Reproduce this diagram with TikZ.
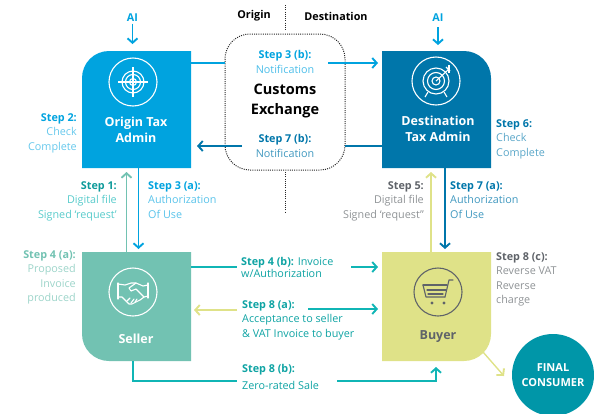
\documentclass[tikz,border=0pt]{standalone}
\usepackage{fontspec}
\setmainfont{Open Sans}
\usetikzlibrary{arrows.meta}
\definecolor{oblue}{HTML}{00A3DF}
\definecolor{dblue}{HTML}{0076AA}
\definecolor{sgreen}{HTML}{72C2B2}
\definecolor{byel}{HTML}{DFE288}
\definecolor{tealc}{HTML}{10B5B5}
\definecolor{fcons}{HTML}{0096A8}
\definecolor{greyd}{HTML}{5F6369}
\definecolor{greyl}{HTML}{8F9396}
\tikzset{
  x=1pt,y=-1pt,
  boxn/.style={minimum width=109pt,minimum height=#1,inner sep=0pt,outer sep=0pt},
  boxlabel/.style={font=\fontsize{12.5}{15.5}\selectfont\bfseries,align=center,inner sep=0pt},
  lab/.style={font=\fontsize{10.8}{14.6}\selectfont,inner sep=0pt},
  labr/.style={lab,align=right,anchor=north east},
  labl/.style={lab,align=left,anchor=north west},
  conn/.style={line width=1.4pt},
  tip/.style={conn,-{Straight Barb[length=4.5pt,width=10pt,line width=1.9pt]}},
  icon/.style={line width=1.1pt},
  dots/.style={line width=1pt,dash pattern=on 1pt off 1.2pt,black!85},
}
\begin{document}
\begin{tikzpicture}
\useasboundingbox (0,0) rectangle (594,413);
% anchor nodes
\node[boxn=117pt] (origin) at (136.5,109.5) {};
\node[boxn=117pt] (dest) at (436.5,109.5) {};
\node[boxn=109pt] (seller) at (136.5,306.5) {};
\node[boxn=109pt] (buyer) at (436.5,306.5) {};
\fill[oblue] (origin.south west) [rounded corners=27pt] -- (origin.north west) [sharp corners] -- (origin.north east) -- (origin.south east) -- cycle;
\fill[dblue] (dest.north west) [rounded corners=27pt] -- (dest.north east) [sharp corners] -- (dest.south east) -- (dest.south west) -- cycle;
\fill[sgreen] (seller.north west) [rounded corners=27pt] -- (seller.south west) [sharp corners] -- (seller.south east) -- (seller.north east) -- cycle;
\fill[byel] (buyer.north west) -- (buyer.north east) [rounded corners=27pt] -- (buyer.south east) [sharp corners] -- (buyer.south west) -- cycle;
% customs box
\node[draw=none,minimum width=120pt,minimum height=136pt,inner sep=0pt,outer sep=0pt,rounded corners=25pt] (customs) at (285,102) {};
\draw[dots,rounded corners=25pt] (customs.north west) rectangle (customs.south east);
\node[font=\fontsize{14.5}{20.5}\selectfont\bfseries,align=center,inner sep=0pt] (cx) at (285,101) {Customs\\Exchange};
% headings
\node[font=\fontsize{10.8}{13}\selectfont\bfseries,inner sep=0pt] (horig) at (254,16) {Origin};
\node[font=\fontsize{10.8}{13}\selectfont\bfseries,inner sep=0pt] (hdest) at (336,16) {Destination};
\coordinate (d1) at (285,5); \coordinate (d2) at (285,31);
\coordinate (d3) at (285,172); \coordinate (d4) at (285,212);
\draw[dots] (d1)--(d2); \draw[dots] (d3)--(d4);
% box labels
\node[boxlabel,text=white] at (136,130) {Origin Tax\\Admin};
\node[boxlabel,text=white] at (438,129) {Destination\\Tax Admin};
\node[boxlabel,text=white] at (136,339) {Seller};
\node[boxlabel,text=greyd] at (438,337) {Buyer};
% AI
\node[font=\fontsize{10.8}{13}\selectfont\bfseries,text=oblue,inner sep=0pt] (ai1) at (132.5,18) {AI};
\node[font=\fontsize{10.8}{13}\selectfont\bfseries,text=oblue,inner sep=0pt] (ai2) at (438,18) {AI};
\draw[tip,oblue] (ai1.south)++(0,1.5) -- ++(0,20.5);
\draw[tip,oblue] (ai2.south)++(0,5) -- ++(0,18);
% horizontal upper
\coordinate (a1) at (origin.east|-0,63); \coordinate (a2) at (customs.west|-0,63);
\coordinate (a3) at (328,63); \coordinate (a4) at (378,63);
\draw[conn,oblue] (a1)--(a2); \draw[tip,oblue] (a3)--(a4);
\coordinate (b1) at (dest.west|-0,146); \coordinate (b2) at (customs.east|-0,146);
\coordinate (b3) at (242,146); \coordinate (b4) at (197,146);
\draw[conn,dblue] (b1)--(b2); \draw[tip,dblue] (b3)--(b4);
% verticals
\draw[tip,sgreen] (126.5,252) -- (126.5,172);
\draw[tip,oblue] (138.5,168) -- (138.5,249);
\draw[tip,byel] (431,252) -- (431,172);
\draw[tip,dblue] (445,168) -- (445,249);
% step 4b
\draw[conn,tealc] (seller.east|-0,267) -- (237,267);
\draw[tip,tealc] (351,267) -- (378,267);
% step 8a
\draw[tip,byel] (237,310) -- (194,310);
\draw[tip,tealc] (308,309) -- (378,309);
% step 8b
\draw[conn,tealc] (133,361) |- (237,381);
\coordinate (e1) at (337,381);
\draw[tip,tealc] (e1) -| (436,367);
% final consumer
\node[circle,fill=fcons,minimum size=82pt,inner sep=0pt,outer sep=0pt,text=white,align=center,font=\fontsize{11}{15}\selectfont\bfseries] (fc) at (553,375) {FINAL\\CONSUMER};
\draw[tip,byel] (483,352) -- (504,376);
% labels left
\node[labr,text=oblue] at (77,113) {\textbf{Step 2:}\\\textcolor{oblue!60}{Check}\\\textcolor{oblue!60}{Complete}};
\node[labr,text=tealc!85!black] at (117,181) {\textbf{Step 1:}\\\textcolor{tealc!70}{Digital file}\\\textcolor{tealc!70}{Signed ‘request’}};
\node[labl,text=oblue] at (148,181) {\textbf{Step 3 (a):}\\\textcolor{oblue!65}{Authorization}\\\textcolor{oblue!65}{Of Use}};
\node[labr,text=sgreen] at (76,250) {\textbf{Step 4 (a):}\\\textcolor{sgreen!70}{Proposed}\\\textcolor{sgreen!70}{Invoice}\\\textcolor{sgreen!70}{produced}};
% labels centre
\node[lab,align=center,text=oblue] at (285,62) {\textbf{Step 3 (b):}\\\textcolor{oblue!70}{Notification}};
\node[lab,align=center,text=dblue] at (285,146) {\textbf{Step 7 (b):}\\\textcolor{dblue!75}{Notification}};
% labels right
\node[labl,text=dblue] at (496,119) {\textbf{Step 6:}\\\textcolor{dblue!65}{Check}\\\textcolor{dblue!65}{Complete}};
\node[labr,text=greyd] at (424,181) {\textbf{Step 5:}\\\textcolor{greyl}{Digital file}\\\textcolor{greyl}{Signed ‘request”}};
\node[labl,text=dblue] at (450,181) {\textbf{Step 7 (a):}\\\textcolor{dblue!75}{Authorization}\\\textcolor{dblue!75}{Of Use}};
\node[labl,text=greyd] at (496,252) {\textbf{Step 8 (c):}\\\textcolor{greyl}{Reverse VAT}\\\textcolor{greyl}{Reverse}\\\textcolor{greyl}{charge}};
% labels middle
\node[lab,anchor=north west,align=left,text=tealc!90!black,font=\fontsize{10.8}{12}\selectfont] at (241,257) {\textbf{Step 4 (b):} Invoice\\w/Authorization};
\node[lab,align=left,anchor=north west,text=tealc!90!black] at (242,300) {\textbf{Step 8 (a):}\\Acceptance to seller\\\& VAT Invoice to buyer};
\node[lab,align=left,anchor=north west,text=tealc!90!black,font=\fontsize{10.8}{17}\selectfont] at (242,364) {\textbf{Step 8 (b):}\\Zero-rated Sale};
% icons: origin
\begin{scope}[shift={(133,82)},white,icon]
\draw (0,0) circle (24);
\draw (0,0) circle (11); \draw (0,0) circle (7.5); \draw (0,0) circle (3.5);
\draw (-15,0)--(15,0); \draw (0,-15)--(0,15);
\end{scope}
% icons: destination
\begin{scope}[shift={(436,81)},white,icon]
\draw (0,0) circle (24);
\draw (0,0) circle (13); \draw (0,0) circle (8.5); \draw (0,0) circle (4);
\draw (0,0)--(13,-12); \draw (10,-14)--(14,-10); \draw (13,-16)--(13,-8);
\draw (-8,11)--(-11,16); \draw (8,11)--(11,16);
\end{scope}
% icons: seller
\begin{scope}[shift={(133,292)},white,icon,line join=round,line cap=round]
\draw (0,0) circle (24);
\draw (-15,-9)--(-15,7); \draw (15,-9)--(15,6);
\draw (-15,-8)--(-8,-7)--(-2,-9)--(3,-9)--(10,-6)--(15,-7);
\draw (3,-9)--(-4,-4)--(-2,-1)--(3,-3)--(11,5)--(7,8);
\draw (-15,5)--(-11,5)--(-4,12)--(-1,12)--(7,8);
\draw (-6,9)--(-3,6); \draw (-2,11)--(1,7); \draw (2,10)--(4,7); \draw (11,5)--(15,4);
\end{scope}
% icons: buyer
\begin{scope}[shift={(438,292)},greyd,icon,line join=round,line cap=round]
\draw (0,0) circle (24);
\draw (-15,-7)--(9,-7); \draw (-15,-7)--(-12,5)--(7,5);
\draw (-11,-2)--(8,-2); \draw (-10,2)--(5,2);
\draw (7,5)--(11,-12)--(15,-12);
\fill (-6,11) circle (1.7); \fill (6,11) circle (1.7);
\end{scope}
\end{tikzpicture}
\end{document}
